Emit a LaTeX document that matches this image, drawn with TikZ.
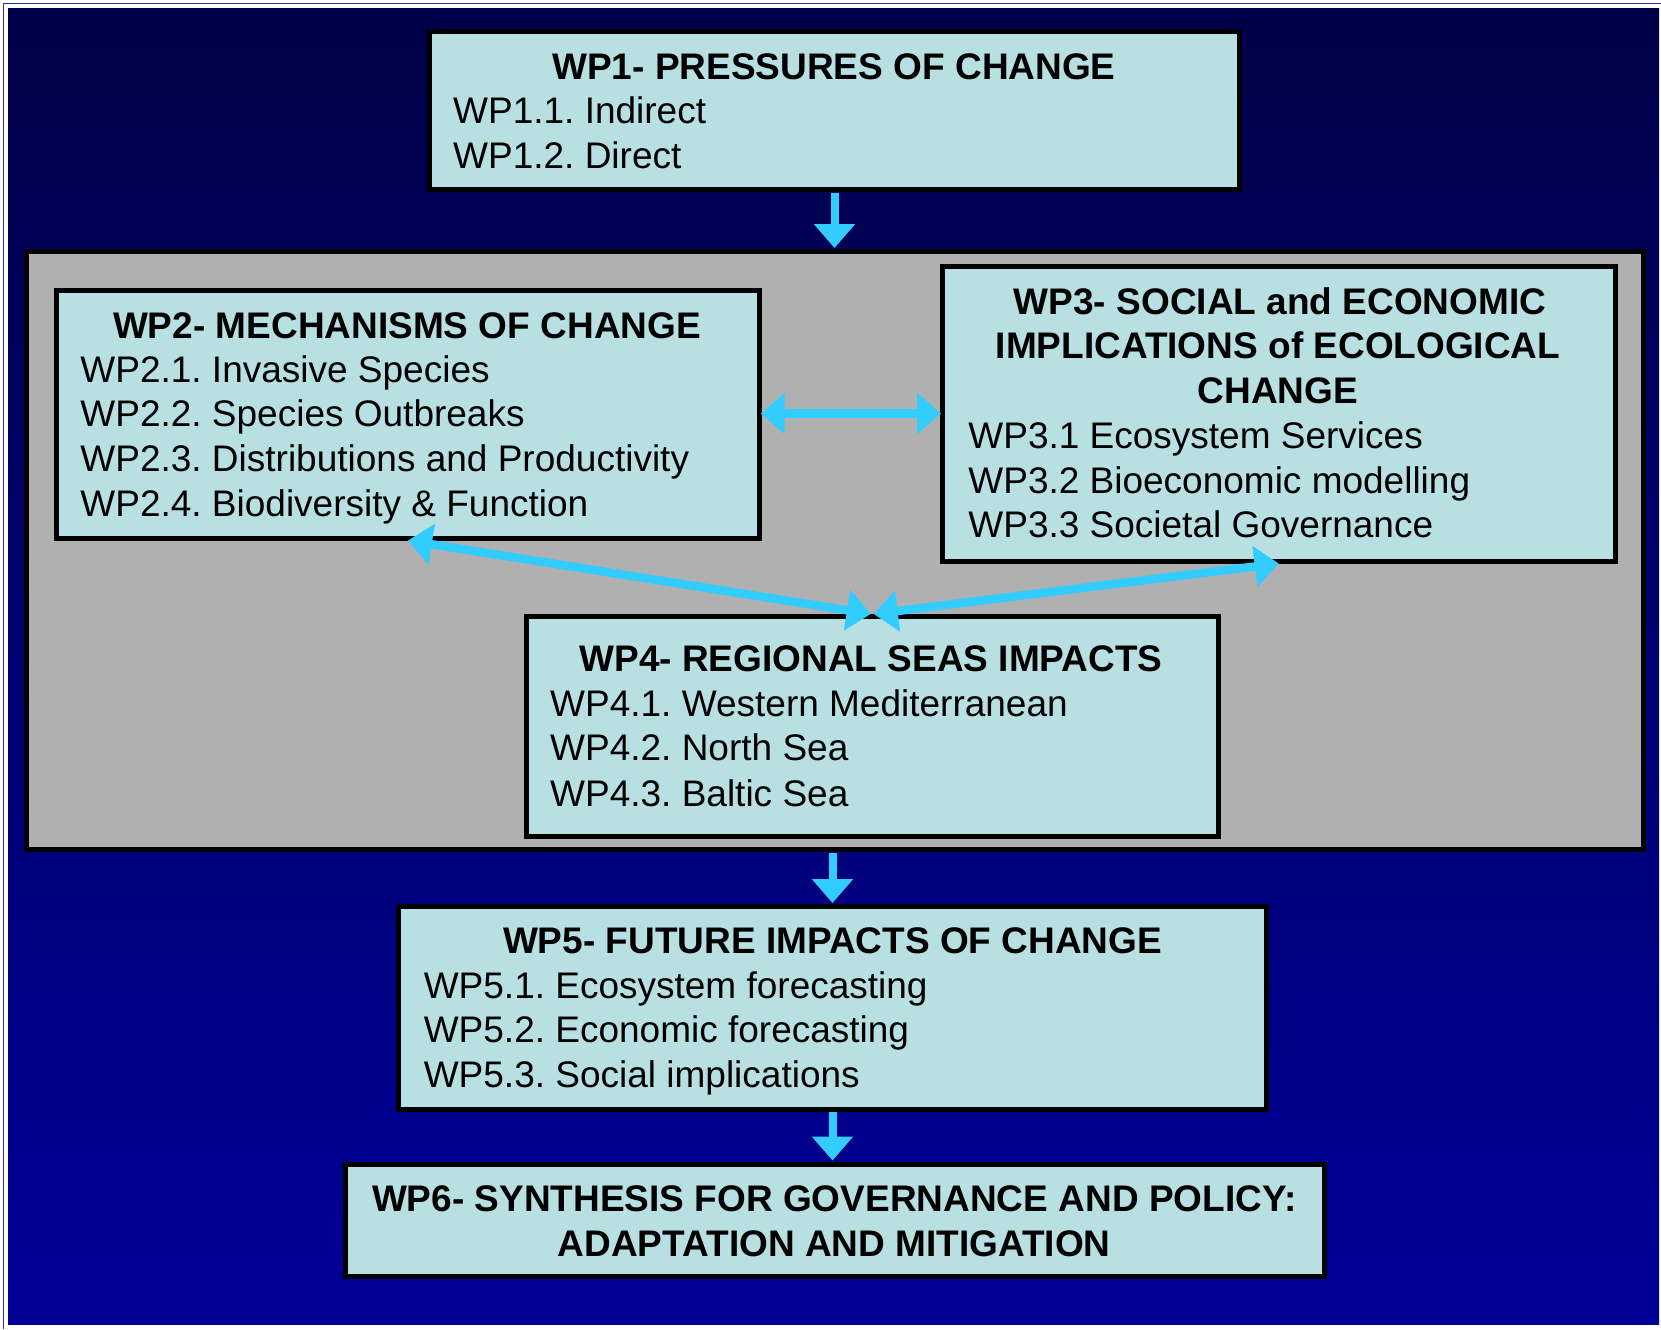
\documentclass[tikz,border=0pt]{standalone}
\usepackage{fontspec}
\setmainfont{Liberation Sans}
\usetikzlibrary{arrows.meta,fit}
\definecolor{bgtop}{HTML}{000048}
\definecolor{bgmid}{HTML}{000076}
\definecolor{bgbot}{HTML}{000098}
\definecolor{boxfill}{HTML}{B8E0E2}
\definecolor{greyfill}{HTML}{B0B0B0}
\definecolor{arrowblue}{HTML}{33CCFF}
\definecolor{framebl}{HTML}{3030B0}
\frenchspacing
\begin{document}
\frenchspacing
\begin{tikzpicture}[x=0.5pt,y=-0.5pt,
  wpbox/.style={draw=black, line width=2.5pt, fill=boxfill, inner sep=0pt, outer sep=0pt, rectangle},
  ttl/.style={font=\fontsize{18.5pt}{22.25pt}\selectfont\bfseries, anchor=base, inner sep=0pt},
  itm/.style={font=\fontsize{18.5pt}{22.25pt}\selectfont, anchor=base west, inner sep=0pt},
  arr/.style={draw=arrowblue, line width=4pt, -{Triangle[width=20pt,length=12pt]}},
  darr/.style={draw=arrowblue, line width=4.25pt, {Triangle[width=20pt,length=12pt]}-{Triangle[width=20pt,length=12pt]}}
]
\useasboundingbox (0,0) rectangle (1661,1329);
\fill[white] (0,0) rectangle (1661,1329);
\shade[top color=bgtop, middle color=bgmid, bottom color=bgbot] (8,8) rectangle (1659,1324);
\draw[framebl, line width=0.5pt] (3.5,1329) -- (3.5,3.5) -- (1661,3.5);

% grey panel
\node[fit={(26,251)(1643,849.5)}, draw=black, line width=2.5pt, fill=greyfill, inner sep=0pt, outer sep=0pt] (grey) {};

% boxes
\node[wpbox, fit={(429.5,31.5)(1239.5,189.5)}] (wp1) {};
\node[wpbox, fit={(56.5,290.5)(759.5,538.5)}] (wp2) {};
\node[wpbox, fit={(942.5,266.5)(1615,561.5)}] (wp3) {};
\node[wpbox, fit={(526,616.5)(1218.5,836)}] (wp4) {};
\node[wpbox, fit={(398.5,906.5)(1266.5,1109)}] (wp5) {};
\node[wpbox, fit={(345.5,1164)(1324.5,1276.5)}] (wp6) {};

% texts
\node[ttl] (wp1t) at (834,79.3) {WP1- PRESSURES OF CHANGE};
\node[itm] (wp1a) at (452.8,123.3) {WP1.1. Indirect};
\node[itm] (wp1b) at (452.8,168.3) {WP1.2. Direct};

\node[ttl] (wp2t) at (407,338.3) {WP2- MECHANISMS OF CHANGE};
\node[itm] (wp2a) at (80,382) {WP2.1. Invasive Species};
\node[itm] (wp2b) at (80,426.7) {WP2.2. Species Outbreaks};
\node[itm] (wp2c) at (80,471.7) {WP2.3. Distributions and Productivity};
\node[itm] (wp2d) at (80,516.7) {WP2.4. Biodiversity \& Function};

\node[ttl] (wp3t1) at (1280,314.3) {WP3- SOCIAL and ECONOMIC};
\node[ttl] (wp3t2) at (1278,358.3) {IMPLICATIONS of ECOLOGICAL};
\node[ttl] (wp3t3) at (1278,403.3) {CHANGE};
\node[itm] (wp3a) at (968,448.3) {WP3.1 Ecosystem Services};
\node[itm] (wp3b) at (968,493.3) {WP3.2 Bioeconomic modelling};
\node[itm] (wp3c) at (968,537.7) {WP3.3 Societal Governance};

\node[ttl] (wp4t) at (871,671.6) {WP4- REGIONAL SEAS IMPACTS};
\node[itm] (wp4a) at (549.8,716) {WP4.1. Western Mediterranean};
\node[itm] (wp4b) at (549.8,760.6) {WP4.2. North Sea};
\node[itm] (wp4c) at (549.8,806) {WP4.3. Baltic Sea};

\node[ttl] (wp5t) at (832.6,953.3) {WP5- FUTURE IMPACTS OF CHANGE};
\node[itm] (wp5a) at (423.4,998.3) {WP5.1. Ecosystem forecasting};
\node[itm] (wp5b) at (423.4,1042.7) {WP5.2. Economic forecasting};
\node[itm] (wp5c) at (423.4,1087.3) {WP5.3. Social implications};

\node[ttl] (wp6t1) at (834.2,1211.7) {WP6- SYNTHESIS FOR GOVERNANCE AND POLICY:};
\node[ttl] (wp6t2) at (834.2,1256) {ADAPTATION AND MITIGATION};

% connectors
\coordinate (hy) at (0,413.5);
\draw[arr, shorten <=1.75pt, shorten >=1.5pt] (wp1.south) -- (wp1.south |- grey.north);
\draw[arr, shorten <=1.75pt, shorten >=1.75pt] (wp5.north |- grey.south) -- (wp5.north);
\draw[arr, shorten <=1.5pt, shorten >=1.75pt] (wp5.south) -- (wp5.south |- wp6.north);
\draw[darr, shorten <=0.6pt, shorten >=0.75pt] (wp2.east |- hy) -- (wp3.west |- hy);
\draw[darr] ([yshift=-1pt]wp2.south) -- ([xshift=-0.75pt,yshift=1.25pt]wp4.north);
\draw[darr] ([yshift=-1pt]wp3.south) -- ([xshift=0.75pt,yshift=1.25pt]wp4.north);
\end{tikzpicture}
\end{document}
